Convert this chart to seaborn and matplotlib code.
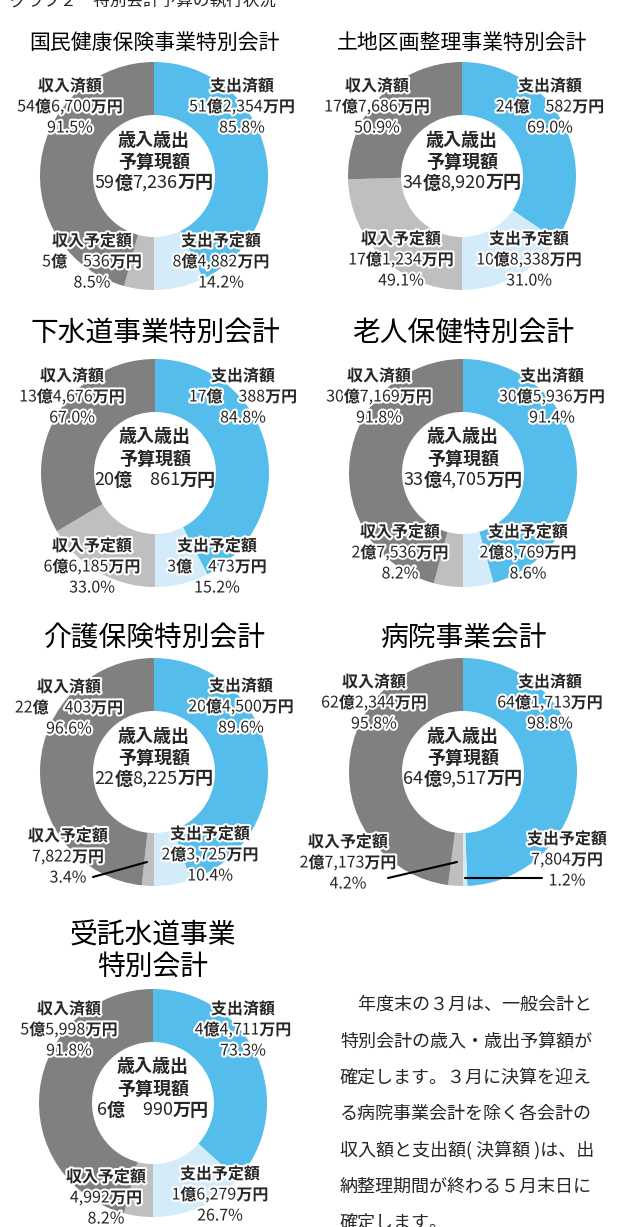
import matplotlib
matplotlib.use("Agg")
import matplotlib.pyplot as plt
import matplotlib.patheffects as pe
import seaborn as sns

W, H = 625, 1227

# 会計ごとの予算・執行額（単位: 万円）
names = ["国民健康保険事業特別会計", "土地区画整理事業特別会計", "下水道事業特別会計",
         "老人保健特別会計", "介護保険特別会計", "病院事業会計", "受託水道事業\n特別会計"]
exp_done = [512354, 240582, 170388, 305936, 204500, 641713, 44711]
exp_plan = [84882, 108338, 30473, 28769, 23725, 7804, 16279]
rev_plan = [50536, 171234, 66185, 27536, 7822, 27173, 4992]
rev_done = [546700, 177686, 134676, 307169, 220403, 622344, 55998]
budget = [597236, 348920, 200861, 334705, 228225, 649517, 60990]

seg_names = ["支出済額", "支出予定額", "収入予定額", "収入済額"]
colors = ["#55BDEC", "#D4ECFA", "#BFBFBF", "#808080"]

header = "グラフ２　特別会計予算の執行状況"
note_lines = ["　年度末の３月は、一般会計と",
              "特別会計の歳入・歳出予算額が",
              "確定します。３月に決算を迎え",
              "る病院事業会計を除く各会計の",
              "収入額と支出額( 決算額 )は、出",
              "納整理期間が終わる５月末日に",
              "確定します。"]

# layout (image pixel coords, y down)
centers = [(154, 176), (462, 176), (155, 473), (463, 473), (154, 772), (463, 772), (153, 1103)]
title_pos = [(154, 43, 15), (462, 43, 15), (155, 333, 20), (463, 333, 20),
             (154, 638, 20), (463, 638, 20), (153, 951, 20)]
label_off = [
    [(88, -69), (67, 86), (-62, 86), (-84, -69)],
    [(88, -69), (67, 84), (-61, 84), (-85, -69)],
    [(88, -76), (62, 94), (-63, 94), (-83, -76)],
    [(89, -76), (65, 80), (-63, 80), (-84, -76)],
    [(87, -65), (56, 83), (-86, 85), (-85, -64)],
    [(87, -69), (104, 88), (-115, 91), (-89, -69)],
    [(90, -73), (67, 92), (-47, 95), (-84, -73)],
]
leaders = {4: [((93, 877), (147, 862))],
           5: [((388, 878), (457, 862)), ((465, 878), (542, 878))]}
R_OUT, R_IN = 114, 61


def Y(y):
    return H - y


def fmt(v):
    oku, man = divmod(v, 10000)
    if oku == 0:
        return f"{man:,}万円"
    if man < 1000:
        return f"{oku}億　{man}万円"
    return f"{oku}億{man:,}万円"


sns.set_theme(style="white")
plt.rcParams['font.family'] = ['Noto Sans CJK JP', 'DejaVu Sans']

fig = plt.figure(figsize=(W / 100, H / 100), dpi=100)
ax = fig.add_axes([0, 0, 1, 1])
ax.set_xlim(0, W)
ax.set_ylim(0, H)
halo = [pe.withStroke(linewidth=3, foreground="white")]
renderer = fig.canvas.get_renderer()


def mixed_text(x, y, s, size, effects=None):
    # 億・万円だけ太字、数字は標準の太さで横に並べる
    runs = []
    for ch in s:
        bold = ch in "億万円"
        if runs and runs[-1][1] == bold:
            runs[-1][0] += ch
        else:
            runs.append([ch, bold])
    items = []
    for txt, bold in runs:
        t = ax.text(0, y, txt, ha="left", va="center", fontsize=size,
                    fontweight="bold" if bold else "normal",
                    path_effects=effects, zorder=4)
        w = t.get_window_extent(renderer).width
        items.append((t, w))
    total = sum(w for _, w in items)
    pos = x - total / 2
    for t, w in items:
        t.set_x(pos)
        pos += w


for i in range(len(names)):
    cx, cy = centers[i]
    vals = [exp_done[i], exp_plan[i], rev_plan[i], rev_done[i]]
    ax.pie(vals, colors=colors, startangle=90, counterclock=False,
           center=(cx, Y(cy)), radius=R_OUT,
           wedgeprops=dict(width=R_OUT - R_IN, linewidth=0))

    tx, ty, ts = title_pos[i]
    ax.text(tx, Y(ty), names[i], ha="center", va="center", fontsize=ts,
            linespacing=1.05, color="black")

    # center text
    ax.text(cx, Y(cy - 36), "歳入歳出", ha="center", va="center", fontsize=13, fontweight="bold")
    ax.text(cx, Y(cy - 14), "予算現額", ha="center", va="center", fontsize=13, fontweight="bold")
    mixed_text(cx, Y(cy + 7), fmt(budget[i]), 13)

    for (x1, y1), (x2, y2) in leaders.get(i, []):
        ax.plot([x1, x2], [Y(y1), Y(y2)], color="black", lw=1.5, zorder=3)

    for j, v in enumerate(vals):
        dx, dy = label_off[i][j]
        lx, ly = cx + dx, cy + dy
        pct = f"{v / budget[i] * 100:.1f}%"
        ax.text(lx, Y(ly - 21), seg_names[j], ha="center", va="center", fontsize=11.5,
                fontweight="bold", path_effects=halo, zorder=4)
        mixed_text(lx, Y(ly), fmt(v), 11.5, halo)
        ax.text(lx, Y(ly + 21), pct, ha="center", va="center", fontsize=11.5,
                path_effects=halo, zorder=4)

ax.text(10, Y(5), header, ha="left", va="baseline", fontsize=12)

for k, line in enumerate(note_lines):
    ax.text(340, Y(1005 + k * 36.3), line, ha="left", va="center", fontsize=13)

ax.set_xlim(0, W)
ax.set_ylim(0, H)
ax.set_aspect("auto")
ax.axis("off")

fig.savefig("out.png", dpi=100)
